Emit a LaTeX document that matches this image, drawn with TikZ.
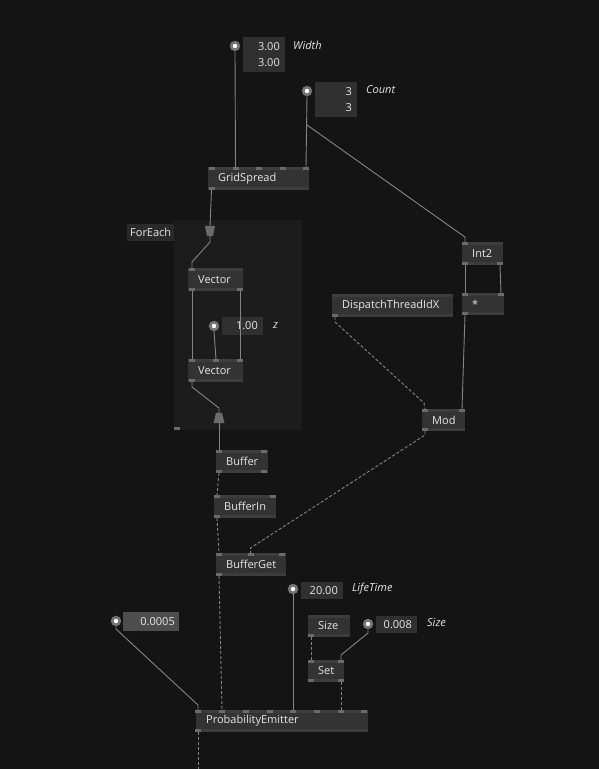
\documentclass[tikz,border=0pt]{standalone}
\usepackage{fontspec}
\setmainfont{Open Sans}
\definecolor{bgc}{HTML}{141414}
\definecolor{grpc}{HTML}{1C1C1C}
\definecolor{grplbl}{HTML}{2A2A2A}
\definecolor{nodec}{HTML}{333333}
\definecolor{stripc}{HTML}{3D3D3D}
\definecolor{portc}{HTML}{6B6B6B}
\definecolor{txtc}{HTML}{E6E6E6}
\definecolor{valc}{HTML}{303030}
\definecolor{selc}{HTML}{4D4D4D}
\definecolor{wirec}{HTML}{858585}
\definecolor{pinc}{HTML}{747474}
\tikzset{
  gbox/.style={fill=nodec, inner sep=0, outer sep=0, anchor=north west},
  vbox/.style={fill=valc, inner sep=0, outer sep=0, anchor=north west},
  port/.style={fill=portc, minimum width=6pt, minimum height=3pt, inner sep=0, outer sep=0},
  lbl/.style={text=txtc, anchor=west, inner sep=0},
  vtxt/.style={text=txtc, anchor=east, inner sep=0},
  ital/.style={text=txtc, anchor=west, inner sep=0, font=\fontsize{11}{12}\selectfont\itshape},
  pinn/.style={circle, fill=pinc, minimum size=10.5pt, inner sep=0, outer sep=0},
  wire/.style={draw=wirec, line width=0.9pt},
  dwire/.style={wire, dash pattern=on 3pt off 2pt},
}
\newcommand{\gnode}[6]{%
  \node[gbox, minimum width=#4pt, minimum height=#5pt] (#1) at (#2,#3) {};
  \fill[stripc] (#1.north west) rectangle ([yshift=-3pt]#1.north east);
  \fill[stripc] (#1.south west) rectangle ([yshift=3pt]#1.south east);
  \node[lbl] (#1-l) at ([xshift=10pt]#1.west) {#6};}
\newcommand{\tports}[3]{\foreach \px [count=\i] in {#3} {\node[port, anchor=north] (#1-t\i) at (\px,#2) {};}}
\newcommand{\bports}[3]{\foreach \px [count=\i] in {#3} {\node[port, anchor=south] (#1-b\i) at (\px,#2) {};}}
\newcommand{\valbox}[6]{%
  \node[vbox, minimum width=#4pt, minimum height=#5pt] (#1) at (#2,#3) {};
  \node[vtxt] (#1-v) at ([xshift=-5pt]#1.east) {#6};}
\newcommand{\pinnode}[3]{\node[pinn] (#1) at (#2,#3) {}; \fill[white] (#1.center) circle (2.2pt);}
\begin{document}
\begin{tikzpicture}[x=1pt, y=-1pt, font=\fontsize{11}{12}\selectfont]
\useasboundingbox (0,0) rectangle (599,769);
\fill[bgc] (0,0) rectangle (599,769);

% ForEach group
\node[fill=grpc, inner sep=0, anchor=north west, minimum width=128pt, minimum height=210pt] (grp) at (174,220) {};
\node[fill=grplbl, inner sep=0, anchor=north west, minimum width=47pt, minimum height=17pt] (grpl) at (127,224) {};
\node[text=txtc, inner sep=0] (grpl-t) at (grpl.center) {ForEach};
\node[port, anchor=south west] (grp-b1) at (174,430) {};
\node[inner sep=0, minimum width=10pt, minimum height=10pt] (fin) at (210,231) {};
\fill[portc] ([xshift=-5pt]fin.north) -- ([xshift=5pt]fin.north) -- ([xshift=3pt]fin.south) -- ([xshift=-3pt]fin.south) -- cycle;
\node[inner sep=0, minimum width=11pt, minimum height=10pt] (fout) at (219,418) {};
\fill[portc] ([xshift=-3pt]fout.north) -- ([xshift=3pt]fout.north) -- ([xshift=5.5pt]fout.south) -- ([xshift=-5.5pt]fout.south) -- cycle;

% value inputs
\pinnode{pw}{235}{46}
\node[vbox, minimum width=42pt, minimum height=35pt] (vw) at (243,37) {};
\node[vtxt] (vw-a) at (280,47) {3.00};
\node[vtxt] (vw-b) at (280,63) {3.00};
\node[ital] (lw) at (293,45) {Width};

\pinnode{pc}{307}{91}
\node[vbox, minimum width=42pt, minimum height=35pt] (vc) at (315,82) {};
\node[vtxt] (vc-a) at (352,92) {3};
\node[vtxt] (vc-b) at (352,108) {3};
\node[ital] (lc) at (366,90) {Count};

\pinnode{pz}{214}{326}
\valbox{vz}{222}{317}{41}{18}{1.00}
\node[ital] (lz) at (273,326) {z};

\pinnode{pl}{293}{589}
\valbox{vl}{301}{582}{42}{17}{20.00}
\node[ital] (ll) at (352,589) {LifeTime};

\pinnode{pp}{116}{621}
\node[fill=selc, inner sep=0, anchor=north west, minimum width=56pt, minimum height=19pt] (vp) at (123,612) {};
\node[vtxt] (vp-v) at (175,621.5) {0.0005};

\pinnode{ps}{368}{624}
\valbox{vs}{376}{616}{41}{17}{0.008}
\node[ital] (ls) at (427,623) {Size};

% nodes
\gnode{gs}{208}{167}{101}{23}{GridSpread}
\tports{gs}{167}{211.5,235.5,259,282.5,306}
\bports{gs}{190}{211.5}

\gnode{v1}{188}{268}{55}{23}{Vector}
\tports{v1}{268}{192}
\bports{v1}{291}{192,240}

\gnode{v2}{188}{359}{55}{23}{Vector}
\tports{v2}{359}{192,216,240}
\bports{v2}{382}{192}

\gnode{bu}{216}{450}{52}{23}{Buffer}
\tports{bu}{450}{219,264}
\bports{bu}{473}{219,264}

\gnode{bi}{214}{495}{62}{23}{BufferIn}
\tports{bi}{495}{217,273}
\bports{bi}{518}{217}

\gnode{bg}{216}{553}{70}{23}{BufferGet}
\tports{bg}{553}{219,250.5,282}
\bports{bg}{576}{219}

\gnode{dt}{332}{294}{121}{23}{DispatchThreadIdX}
\bports{dt}{317}{335}

\gnode{i2}{462}{242}{41}{23}{Int2}
\tports{i2}{242}{465}
\bports{i2}{265}{465,500}

\gnode{ml}{462}{293}{42}{22}{*}
\tports{ml}{293}{465,501}
\bports{ml}{315}{465}

\gnode{md}{422}{409}{43}{22}{Mod}
\tports{md}{409}{425,462}
\bports{md}{431}{425}

\gnode{sz}{308}{615}{42}{22}{Size}
\bports{sz}{637}{311}

\gnode{st}{308}{660}{36}{22}{Set}
\tports{st}{660}{311,341}
\bports{st}{682}{311,341}

\gnode{pe}{196}{710}{172}{22}{ProbabilityEmitter}
\tports{pe}{710}{198,222,246,270,293,317,341,364}
\bports{pe}{732}{198}
\coordinate (peout) at (198,769);

% wires
\draw[wire] (pw.south) -- (gs-t2.north);
\draw[wire] (pc.south) -- (gs-t5.north);
\draw[wire] (307,125) -- (455,230) -- (465,237) -- (i2-t1.north);
\draw[wire] (gs-b1.south) -- (fin.north);
\draw[wire] (fin.south) -- (210,242) -- (192,262) -- (v1-t1.north);
\draw[wire] (v1-b1.south) -- (v2-t1.north);
\draw[wire] (v1-b2.south) -- (v2-t3.north);
\draw[wire] (pz.south) -- (v2-t2.north);
\draw[wire] (v2-b1.south) -- (192,387) -- (219,408) -- (fout.north);
\draw[wire] (fout.south) -- (bu-t1.north);
\draw[dwire] (bu-b1.south) -- (bi-t1.north);
\draw[dwire] (bi-b1.south) -- (bg-t1.north);
\draw[dwire] (bg-b1.south) -- (pe-t2.north);
\draw[wire] (i2-b1.south) -- (ml-t1.north);
\draw[wire] (i2-b2.south) -- (ml-t2.north);
\draw[wire] (ml-b1.south) -- (md-t2.north);
\draw[dwire] (dt-b1.south) -- (335,322) -- (424,403) -- (md-t1.north);
\draw[dwire] (md-b1.south) -- (425,435) -- (250.5,548) -- (bg-t2.north);
\draw[wire] (pp.south) -- (116,629) -- (198,705) -- (pe-t1.north);
\draw[wire] (pl.south) -- (pe-t5.north);
\draw[dwire] (sz-b1.south) -- (st-t1.north);
\draw[wire] (ps.south) -- (368,633) -- (341,655) -- (st-t2.north);
\draw[dwire] (st-b2.south) -- (pe-t7.north);
\draw[dwire] (pe-b1.south) -- (peout);
\end{tikzpicture}
\end{document}
